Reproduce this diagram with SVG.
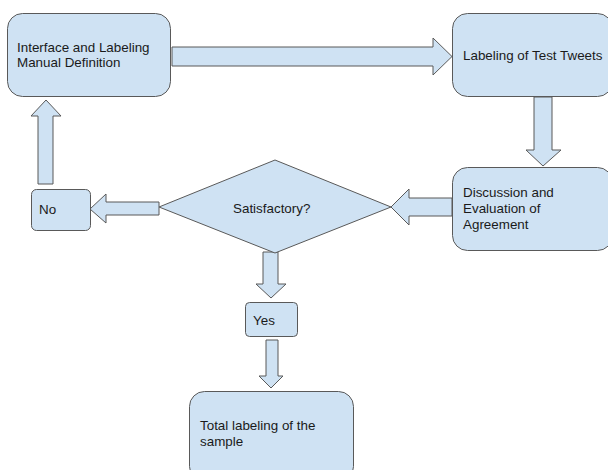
<svg xmlns="http://www.w3.org/2000/svg" width="608" height="470" viewBox="0 0 608 470">
<style>
.n{fill:#cfe2f3;stroke:#595959;stroke-width:1}
.a{fill:#cfe2f3;stroke:#595959;stroke-width:1;stroke-linejoin:miter}
text{font-family:"Liberation Sans",Arial,sans-serif;font-size:13.4px;fill:#1a1a1a}
</style>
<rect width="608" height="470" fill="#fff"/>
<g id="connectors">
<polygon class="a" points="172,47 433,47 433,38 452,56.5 433,75 433,66 172,66"/>
<polygon class="a" points="534,97 552,97 552,150 561,150 543,166 526,150 534,150"/>
<polygon class="a" points="452,198 409,198 409,189 391,207 409,225 409,216 452,216"/>
<polygon class="a" points="159,202 106,202 106,194 90,209 106,223 106,215 159,215"/>
<polygon class="a" points="38,184 38,116 31,116 46,100 61,116 53,116 53,184"/>
<polygon class="a" points="263,252 278,252 278,284 286,284 271,298 256,284 263,284"/>
<polygon class="a" points="266,340 278,340 278,376 283,376 271,388 259,376 266,376"/>
</g>
<g id="n1">
<rect class="n" x="7.5" y="13.5" width="163" height="83" rx="15"/>
<text x="17" y="52">Interface and Labeling</text>
<text x="17" y="67">Manual Definition</text>
</g>
<g id="n2">
<rect class="n" x="452.5" y="13.5" width="160" height="83" rx="15"/>
<text x="463" y="60">Labeling of Test Tweets</text>
</g>
<g id="n3">
<rect class="n" x="452.5" y="167.5" width="160" height="83" rx="15"/>
<text x="463" y="197">Discussion and</text>
<text x="463" y="213">Evaluation of</text>
<text x="463" y="229">Agreement</text>
</g>
<g id="n4">
<polygon class="n" points="275,160 391,207 275,253 159,207"/>
<text x="233" y="213">Satisfactory?</text>
</g>
<g id="n5">
<rect class="n" x="31.5" y="189.5" width="59" height="41" rx="5"/>
<text x="39" y="214">No</text>
</g>
<g id="n6">
<rect class="n" x="245.5" y="302.5" width="52" height="34" rx="4"/>
<text x="253" y="325">Yes</text>
</g>
<g id="n7">
<rect class="n" x="189.5" y="391.5" width="164" height="90" rx="15"/>
<text x="200" y="430">Total labeling of the</text>
<text x="200" y="446">sample</text>
</g>
</svg>
